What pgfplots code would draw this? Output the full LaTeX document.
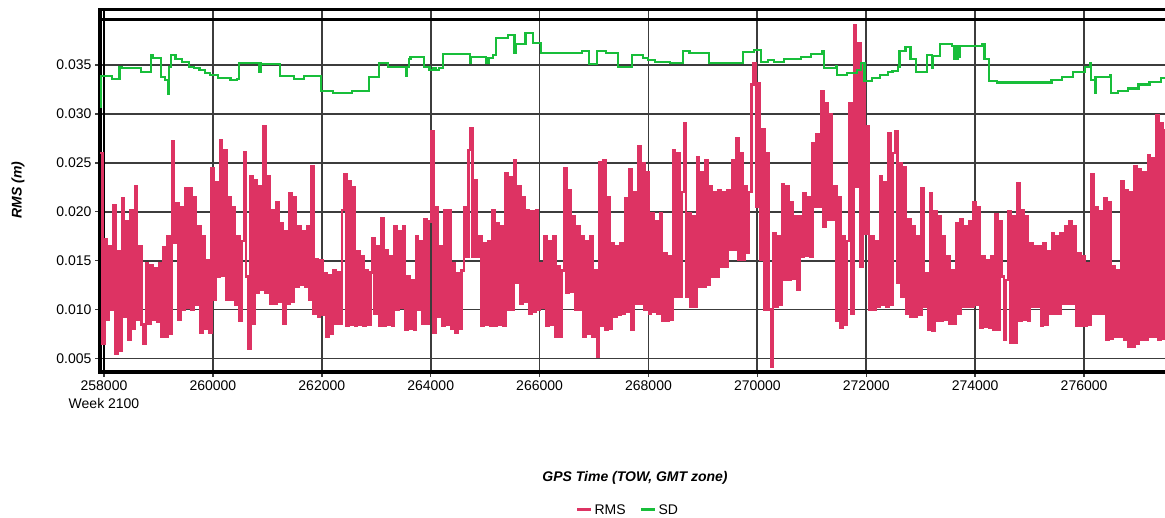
\documentclass[border=0pt]{standalone}
\usepackage{pgfplots}
\pgfplotsset{compat=1.18}
\usepackage{fontspec}
\setmainfont{Liberation Sans}
\definecolor{rmscol}{RGB}{221,51,99}
\definecolor{sdcol}{RGB}{24,190,58}
\definecolor{gridcol}{RGB}{60,60,60}
\begin{document}
\begin{tikzpicture}
\path[use as bounding box] (0bp,0bp) rectangle (1165bp,518bp);
\begin{axis}[
 at={(100bp,146bp)}, anchor=south west,
 scale only axis, width=1075bp, height=362bp,
 xmin=257926.5, xmax=277670, ymin=0.00362, ymax=0.04062,
 font=\fontsize{14bp}{18bp}\selectfont,
 scaled x ticks=false, scaled y ticks=false,
 xtick pos=bottom, ytick pos=left,
 xtick={258000,260000,262000,264000,266000,268000,270000,272000,274000,276000},
 xticklabels={{258000\\Week 2100},260000,262000,264000,266000,268000,270000,272000,274000,276000},
 xticklabel style={align=center},
 ytick={0.005,0.01,0.015,0.02,0.025,0.03,0.035},
 yticklabels={0.005,0.010,0.015,0.020,0.025,0.030,0.035},
 grid=major, grid style={gridcol, line width=1.8bp},
 axis line style={black, line width=3bp},
 tick align=outside, major tick length=5bp, tick style={gridcol, line width=1.5bp},
 xlabel={\bfseries\itshape GPS Time (TOW, GMT zone)},
 xlabel style={at={(rel axis cs:0.4977,-0.293)}, anchor=center},
 ylabel={\bfseries\itshape RMS (m)},
 ylabel style={at={(rel axis cs:-0.0763,0.503)}, anchor=center},
 legend columns=2,
 legend style={at={(rel axis cs:0.491,-0.381)}, anchor=center, draw=none, fill=none,
   font=\fontsize{14bp}{18bp}\selectfont, /tikz/every even column/.append style={column sep=12bp}},
 legend image code/.code={\draw[#1,line width=3bp] (0bp,0bp) -- (14bp,0bp);},
]
\draw[black, line width=2.5bp] (axis cs:258000,0.00362) -- (axis cs:258000,0.04062);
\draw[black, line width=2.5bp] (axis cs:257926.5,0.03965) -- (axis cs:277670,0.03965);
\addplot[rmscol, line width=2.5bp, const plot] coordinates {
(257930,0.0260)(257970,0.0065)(258010,0.0172)(258050,0.0090)(258090,0.0165)(258130,0.0100)(258170,0.0207)(258210,0.0055)(258250,0.0160)(258290,0.0058)
(258330,0.0214)(258370,0.0093)(258410,0.0190)(258450,0.0069)(258490,0.0202)(258530,0.0080)(258570,0.0226)(258610,0.0090)(258650,0.0165)(258690,0.0085)
(258730,0.0065)(258770,0.0147)(258810,0.0086)(258850,0.0145)(258890,0.0090)(258930,0.0142)(258970,0.0088)(259010,0.0147)(259050,0.0072)(259090,0.0164)
(259130,0.0072)(259170,0.0175)(259210,0.0075)(259250,0.0272)(259290,0.0168)(259330,0.0209)(259370,0.0090)(259410,0.0205)(259450,0.0100)(259490,0.0224)
(259530,0.0102)(259570,0.0224)(259610,0.0100)(259650,0.0215)(259690,0.0105)(259730,0.0185)(259770,0.0076)(259810,0.0175)(259850,0.0080)(259890,0.0150)
(259930,0.0076)(259970,0.0244)(260010,0.0110)(260050,0.0230)(260090,0.0134)(260130,0.0273)(260170,0.0135)(260210,0.0263)(260250,0.0110)(260290,0.0215)
(260330,0.0110)(260370,0.0205)(260410,0.0105)(260450,0.0175)(260490,0.0089)(260530,0.0170)(260570,0.0261)(260610,0.0134)(260650,0.0060)(260690,0.0236)
(260730,0.0086)(260770,0.0232)(260810,0.0117)(260850,0.0226)(260890,0.0120)(260930,0.0287)(260970,0.0117)(261010,0.0236)(261050,0.0106)(261090,0.0202)
(261130,0.0106)(261170,0.0210)(261210,0.0108)(261250,0.0188)(261290,0.0086)(261330,0.0180)(261370,0.0106)(261410,0.0219)(261450,0.0108)(261490,0.0215)
(261530,0.0123)(261570,0.0185)(261610,0.0125)(261650,0.0180)(261690,0.0123)(261730,0.0185)(261770,0.0110)(261810,0.0246)(261850,0.0096)(261890,0.0151)
(261930,0.0093)(261970,0.0150)(262010,0.0095)(262050,0.0137)(262090,0.0072)(262130,0.0135)(262170,0.0075)(262210,0.0140)(262250,0.0086)(262290,0.0138)
(262330,0.0086)(262370,0.0202)(262410,0.0238)(262450,0.0083)(262490,0.0231)(262530,0.0085)(262570,0.0225)(262610,0.0083)(262650,0.0160)(262690,0.0085)
(262730,0.0155)(262770,0.0083)(262810,0.0140)(262850,0.0085)(262890,0.0138)(262930,0.0173)(262970,0.0096)(263010,0.0165)(263050,0.0083)(263090,0.0193)
(263130,0.0083)(263170,0.0161)(263210,0.0085)(263250,0.0155)(263290,0.0083)(263330,0.0185)(263370,0.0100)(263410,0.0180)(263450,0.0102)(263490,0.0185)
(263530,0.0079)(263570,0.0134)(263610,0.0080)(263650,0.0130)(263690,0.0079)(263730,0.0175)(263770,0.0100)(263810,0.0170)(263850,0.0086)(263890,0.0192)
(263930,0.0086)(263970,0.0190)(264010,0.0282)(264050,0.0076)(264090,0.0205)(264130,0.0093)(264170,0.0165)(264210,0.0083)(264250,0.0202)(264290,0.0085)
(264330,0.0202)(264370,0.0080)(264410,0.0147)(264450,0.0076)(264490,0.0137)(264530,0.0080)(264570,0.0140)(264610,0.0205)(264650,0.0154)(264690,0.0263)
(264730,0.0285)(264770,0.0154)(264810,0.0232)(264850,0.0154)(264890,0.0175)(264930,0.0083)(264970,0.0168)(265010,0.0085)(265050,0.0170)(265090,0.0083)
(265130,0.0202)(265170,0.0083)(265210,0.0188)(265250,0.0085)(265290,0.0185)(265330,0.0083)(265370,0.0239)(265410,0.0100)(265450,0.0235)(265490,0.0100)
(265530,0.0253)(265570,0.0127)(265610,0.0226)(265650,0.0106)(265690,0.0215)(265730,0.0108)(265770,0.0202)(265810,0.0096)(265850,0.0200)(265890,0.0098)
(265930,0.0202)(265970,0.0100)(266010,0.0147)(266050,0.0102)(266090,0.0175)(266130,0.0083)(266170,0.0170)(266210,0.0085)(266250,0.0175)(266290,0.0072)
(266330,0.0144)(266370,0.0072)(266410,0.0140)(266450,0.0244)(266490,0.0117)(266530,0.0222)(266570,0.0118)(266610,0.0195)(266650,0.0100)(266690,0.0185)
(266730,0.0100)(266770,0.0175)(266810,0.0072)(266850,0.0170)(266890,0.0075)(266930,0.0175)(266970,0.0072)(267010,0.0140)(267050,0.0052)(267090,0.0251)
(267130,0.0083)(267170,0.0253)(267210,0.0079)(267250,0.0215)(267290,0.0080)(267330,0.0168)(267370,0.0093)(267410,0.0165)(267450,0.0095)(267490,0.0168)
(267530,0.0096)(267570,0.0214)(267610,0.0098)(267650,0.0243)(267690,0.0079)(267730,0.0220)(267770,0.0106)(267810,0.0267)(267850,0.0106)(267890,0.0250)
(267930,0.0100)(267970,0.0240)(268010,0.0096)(268050,0.0198)(268090,0.0098)(268130,0.0190)(268170,0.0096)(268210,0.0198)(268250,0.0089)(268290,0.0158)
(268330,0.0089)(268370,0.0155)(268410,0.0090)(268450,0.0263)(268490,0.0113)(268530,0.0260)(268570,0.0113)(268610,0.0220)(268650,0.0290)(268690,0.0113)
(268730,0.0198)(268770,0.0103)(268810,0.0195)(268850,0.0103)(268890,0.0256)(268930,0.0123)(268970,0.0240)(269010,0.0123)(269050,0.0253)(269090,0.0125)
(269130,0.0226)(269170,0.0134)(269210,0.0220)(269250,0.0134)(269290,0.0222)(269330,0.0144)(269370,0.0220)(269410,0.0144)(269450,0.0222)(269490,0.0161)
(269530,0.0253)(269570,0.0161)(269610,0.0275)(269650,0.0151)(269690,0.0260)(269730,0.0151)(269770,0.0226)(269810,0.0158)(269850,0.0220)(269890,0.0330)
(269930,0.0352)(269970,0.0205)(270010,0.0331)(270050,0.0151)(270090,0.0284)(270130,0.0100)(270170,0.0260)(270210,0.0100)(270250,0.0042)(270290,0.0178)
(270330,0.0103)(270370,0.0175)(270410,0.0105)(270450,0.0228)(270490,0.0130)(270530,0.0226)(270570,0.0130)(270610,0.0210)(270650,0.0132)(270690,0.0195)
(270730,0.0120)(270770,0.0195)(270810,0.0154)(270850,0.0219)(270890,0.0155)(270930,0.0215)(270970,0.0154)(271010,0.0270)(271050,0.0205)(271090,0.0279)
(271130,0.0205)(271170,0.0323)(271210,0.0185)(271250,0.0311)(271290,0.0192)(271330,0.0300)(271370,0.0192)(271410,0.0226)(271450,0.0089)(271490,0.0215)
(271530,0.0081)(271570,0.0175)(271610,0.0085)(271650,0.0170)(271690,0.0311)(271730,0.0096)(271770,0.0391)(271810,0.0226)(271850,0.0372)(271890,0.0144)
(271930,0.0352)(271970,0.0178)(272010,0.0287)(272050,0.0100)(272090,0.0175)(272130,0.0100)(272170,0.0170)(272210,0.0103)(272250,0.0236)(272290,0.0105)
(272330,0.0230)(272370,0.0103)(272410,0.0280)(272450,0.0105)(272490,0.0260)(272530,0.0282)(272570,0.0127)(272610,0.0250)(272650,0.0113)(272690,0.0245)
(272730,0.0096)(272770,0.0192)(272810,0.0093)(272850,0.0185)(272890,0.0093)(272930,0.0175)(272970,0.0095)(273010,0.0224)(273050,0.0103)(273090,0.0137)
(273130,0.0079)(273170,0.0219)(273210,0.0078)(273250,0.0200)(273290,0.0089)(273330,0.0195)(273370,0.0089)(273410,0.0175)(273450,0.0090)(273490,0.0154)
(273530,0.0086)(273570,0.0140)(273610,0.0086)(273650,0.0188)(273690,0.0096)(273730,0.0192)(273770,0.0103)(273810,0.0185)(273850,0.0103)(273890,0.0190)
(273930,0.0103)(273970,0.0210)(274010,0.0105)(274050,0.0205)(274090,0.0081)(274130,0.0154)(274170,0.0082)(274210,0.0150)(274250,0.0081)(274290,0.0154)
(274330,0.0079)(274370,0.0197)(274410,0.0079)(274450,0.0190)(274490,0.0134)(274530,0.0069)(274570,0.0130)(274610,0.0200)(274650,0.0066)(274690,0.0195)
(274730,0.0066)(274770,0.0229)(274810,0.0089)(274850,0.0202)(274890,0.0090)(274930,0.0195)(274970,0.0089)(275010,0.0168)(275050,0.0103)(275090,0.0165)
(275130,0.0103)(275170,0.0165)(275210,0.0083)(275250,0.0168)(275290,0.0085)(275330,0.0160)(275370,0.0096)(275410,0.0178)(275450,0.0096)(275490,0.0175)
(275530,0.0096)(275570,0.0178)(275610,0.0106)(275650,0.0185)(275690,0.0106)(275730,0.0190)(275770,0.0106)(275810,0.0185)(275850,0.0083)(275890,0.0158)
(275930,0.0083)(275970,0.0155)(276010,0.0083)(276050,0.0147)(276090,0.0085)(276130,0.0238)(276170,0.0096)(276210,0.0205)(276250,0.0096)(276290,0.0200)
(276330,0.0096)(276370,0.0214)(276410,0.0069)(276450,0.0210)(276490,0.0070)(276530,0.0144)(276570,0.0072)(276610,0.0140)(276650,0.0072)(276690,0.0231)
(276730,0.0069)(276770,0.0222)(276810,0.0062)(276850,0.0220)(276890,0.0062)(276930,0.0246)(276970,0.0065)(277010,0.0243)(277050,0.0069)(277090,0.0240)
(277130,0.0069)(277170,0.0258)(277210,0.0072)(277250,0.0255)(277290,0.0072)(277330,0.0299)(277370,0.0069)(277410,0.0290)(277450,0.0070)(277490,0.0285)
};
\addlegendentry{RMS}
\addplot[sdcol, line width=2.2bp, const plot] coordinates {
(257928,0.0307)(257940,0.03388)(258148,0.03354)(258286,0.03483)(258337,0.03466)(258683,0.03432)(258860,0.03602)(258904,0.03568)(259049,0.03374)(259124,0.03347)
(259175,0.03204)(259200,0.03483)(259230,0.03602)(259313,0.03558)(259439,0.03534)(259566,0.03483)(259650,0.03466)(259755,0.03449)(259850,0.03420)(259944,0.03398)
(260101,0.03364)(260322,0.03347)(260448,0.03354)(260479,0.03524)(260850,0.03432)(260880,0.03524)(260889,0.03510)(261236,0.03388)(261488,0.03354)(261677,0.03388)
(261992,0.03238)(262212,0.03217)(262559,0.03238)(262874,0.03374)(263044,0.03524)(263220,0.03483)(263550,0.03388)(263570,0.03483)(263600,0.03558)(263630,0.03578)
(263882,0.03483)(263977,0.03449)(264050,0.03466)(264100,0.03449)(264150,0.03466)(264229,0.03612)(264720,0.03517)(264740,0.03585)(265020,0.03517)(265060,0.03568)
(265140,0.03602)(265206,0.03773)(265426,0.03807)(265540,0.03619)(265560,0.03715)(265741,0.03824)(265880,0.03728)(266025,0.03619)(266561,0.03626)(266781,0.03647)
(266907,0.03510)(267052,0.03647)(267222,0.03619)(267443,0.03476)(267695,0.03602)(267900,0.03568)(267992,0.03551)(268114,0.03534)(268400,0.03524)(268633,0.03647)
(268755,0.03626)(269108,0.03517)(269517,0.03524)(269731,0.03636)(269944,0.03653)(270066,0.03534)(270188,0.03551)(270310,0.03534)(270493,0.03558)(270798,0.03578)
(270981,0.03609)(271195,0.03643)(271225,0.03466)(271439,0.03490)(271457,0.03398)(271652,0.03422)(271835,0.03449)(271900,0.03517)(271969,0.03337)(272100,0.03364)
(272250,0.03398)(272400,0.03432)(272480,0.03442)(272585,0.03483)(272609,0.03647)(272719,0.03681)(272811,0.03558)(272914,0.03432)(273116,0.03602)(273200,0.03466)
(273230,0.03592)(273360,0.03715)(273573,0.03694)(273620,0.03558)(273640,0.03694)(273660,0.03558)(273680,0.03694)(273700,0.03580)(273726,0.03694)(274122,0.03715)
(274171,0.03558)(274256,0.03340)(274400,0.03320)(275220,0.03320)(275400,0.03347)(275600,0.03381)(275800,0.03432)(276013,0.03483)(276105,0.03517)(276123,0.03347)
(276196,0.03381)(276200,0.03217)(276220,0.03381)(276471,0.03398)(276501,0.03210)(276623,0.03238)(276800,0.03260)(277000,0.03300)(277200,0.03330)(277416,0.03364)
(277500,0.03375)
};
\addlegendentry{SD}
\end{axis}
\end{tikzpicture}
\end{document}
